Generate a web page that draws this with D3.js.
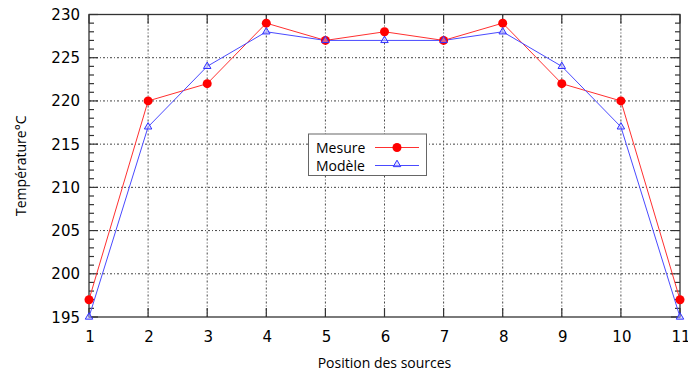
<!DOCTYPE html>
<html><head><meta charset="utf-8">
<script src="https://cdn.jsdelivr.net/npm/d3@7"></script>
<style>
html,body{margin:0;padding:0;background:#fff;}
text{font-family:"Open Sans","Noto Sans",sans-serif;fill:#000;}
text.tick{font-family:"DejaVu Sans",sans-serif;}
</style></head>
<body>
<svg id="c" width="688" height="378"></svg>
<script>
const positions = [1,2,3,4,5,6,7,8,9,10,11];
const mesure = [197,220,222,229,227,228,227,229,222,220,197];
const modele = [195,217,224,228,227,227,227,228,224,217,195];
const yTicks = [195,200,205,210,215,220,225,230];
const xLabel = "Position des sources";
const yLabel = "Température°C";
const seriesNames = ["Mesure","Modèle"];

const svg = d3.select("#c");
const L=89, R=680, T=14.5, B=317;
const x = d3.scaleLinear().domain([1,11]).range([L,R]);
const y = d3.scaleLinear().domain([195,230]).range([B,T]);
const minor = d3.range(195,231,1);

const g = svg.append("g");
// grid
g.selectAll(".gx").data(positions.slice(1,-1)).join("line")
 .attr("x1",d=>x(d)).attr("x2",d=>x(d)).attr("y1",T).attr("y2",B)
 .attr("stroke","#444").attr("stroke-width",1).attr("stroke-dasharray","2,2,1,2");
g.selectAll(".gy").data(yTicks.slice(1,-1)).join("line")
 .attr("x1",L).attr("x2",R).attr("y1",d=>y(d)).attr("y2",d=>y(d))
 .attr("stroke","#444").attr("stroke-width",1).attr("stroke-dasharray","2,2,1,2");

// ticks (inward, mirrored)
const tk = svg.append("g").attr("stroke","#333").attr("stroke-width",1.2);
minor.forEach(v=>{
  const len = (v%5===0)?9:5;
  tk.append("line").attr("x1",L).attr("x2",L+len).attr("y1",y(v)).attr("y2",y(v));
  tk.append("line").attr("x1",R).attr("x2",R-len).attr("y1",y(v)).attr("y2",y(v));
});
positions.forEach(v=>{
  tk.append("line").attr("x1",x(v)).attr("x2",x(v)).attr("y1",B).attr("y2",B-9);
  tk.append("line").attr("x1",x(v)).attr("x2",x(v)).attr("y1",T).attr("y2",T+9);
});
svg.append("rect").attr("x",L).attr("y",T).attr("width",R-L).attr("height",B-T)
 .attr("fill","none").attr("stroke","#333").attr("stroke-width",1.3);

// tick labels
svg.selectAll(".yl").data(yTicks).join("text").attr("class","tick")
 .attr("x",L-9).attr("y",d=>y(d)+5.5).attr("text-anchor","end").attr("font-size",15).text(d=>d);
svg.selectAll(".xl").data(positions).join("text").attr("class","tick")
 .attr("x",d=>x(d)+1).attr("y",342).attr("text-anchor","middle").attr("font-size",15).text(d=>d);

// axis labels
svg.append("text").attr("x",(L+R)/2).attr("y",368).attr("text-anchor","middle").attr("font-size",14).text(xLabel);
svg.append("text").attr("transform",`translate(26,${(T+B)/2}) rotate(-90)`).attr("text-anchor","middle").attr("font-size",14).text(yLabel);

const line = d3.line().x((d,i)=>x(positions[i])).y(d=>y(d));

svg.append("path").datum(mesure).attr("d",line).attr("fill","none").attr("stroke","#ff3030").attr("stroke-width",1);
svg.append("path").datum(modele).attr("d",line).attr("fill","none").attr("stroke","#4a4aff").attr("stroke-width",1);

const tri = d3.symbol().type(d3.symbolTriangle).size(24);
svg.selectAll(".m1").data(mesure).join("circle")
 .attr("cx",(d,i)=>x(positions[i])).attr("cy",d=>y(d)).attr("r",4.5).attr("fill","#ff0000");
svg.selectAll(".m2").data(modele).join("path")
 .attr("d",tri).attr("transform",(d,i)=>`translate(${x(positions[i])},${y(d)})`)
 .attr("fill","#c8c8ff").attr("fill-opacity",0.5).attr("stroke","#3030ff").attr("stroke-width",1);

// legend
const lg = svg.append("g");
lg.append("rect").attr("x",308.5).attr("y",134).attr("width",118).attr("height",41.5)
 .attr("fill","#fff").attr("stroke","#666").attr("stroke-width",1);
lg.append("text").attr("x",316).attr("y",152.5).attr("font-size",14).text(seriesNames[0]);
lg.append("text").attr("x",316).attr("y",170.5).attr("font-size",14).text(seriesNames[1]);
lg.append("line").attr("x1",375).attr("x2",419).attr("y1",147.5).attr("y2",147.5).attr("stroke","#ff3030");
lg.append("circle").attr("cx",397).attr("cy",147.5).attr("r",4.5).attr("fill","#ff0000");
lg.append("line").attr("x1",375).attr("x2",419).attr("y1",165.5).attr("y2",165.5).attr("stroke","#4a4aff");
lg.append("path").attr("d",tri).attr("transform","translate(397,164.5)")
 .attr("fill","#c8c8ff").attr("fill-opacity",0.5).attr("stroke","#3030ff");
</script>
</body></html>
